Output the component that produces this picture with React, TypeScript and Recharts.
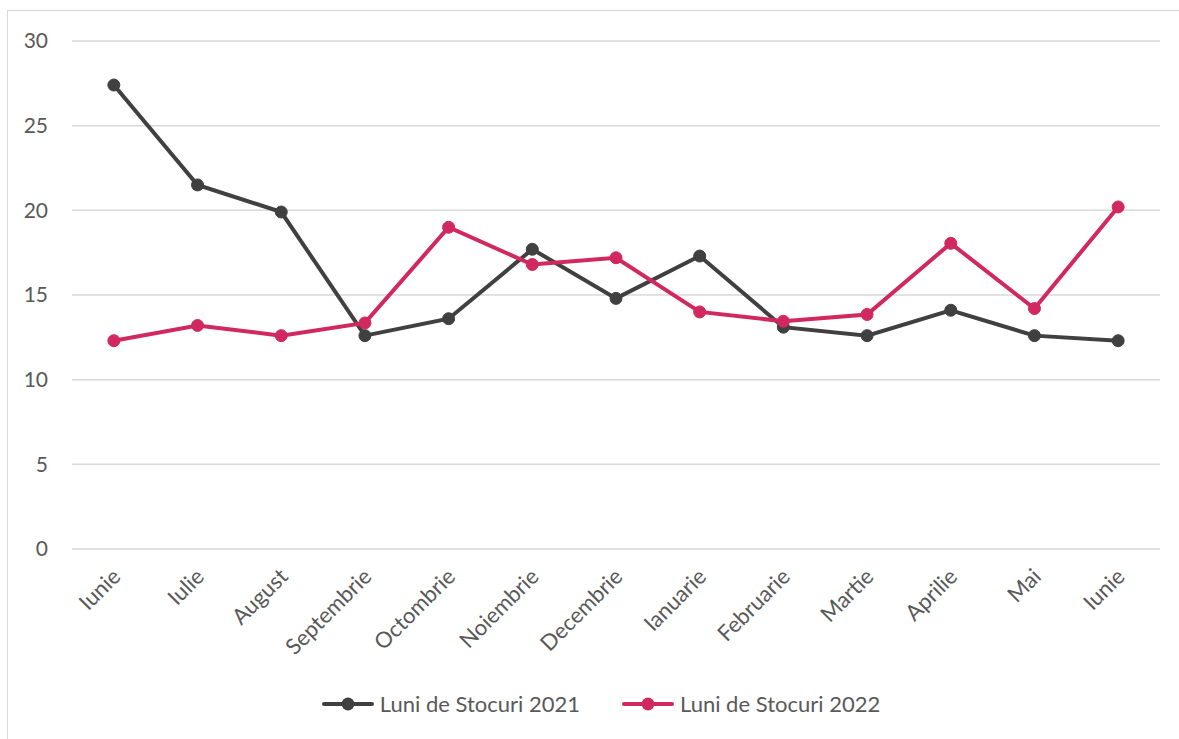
import { LineChart, Line, XAxis, YAxis, CartesianGrid, Legend } from "recharts";

const months = [
  "Iunie",
  "Iulie",
  "August",
  "Septembrie",
  "Octombrie",
  "Noiembrie",
  "Decembrie",
  "Ianuarie",
  "Februarie",
  "Martie",
  "Aprilie",
  "Mai",
  "Iunie",
];

const stocuri2021 = [27.4, 21.5, 19.9, 12.6, 13.6, 17.7, 14.8, 17.3, 13.1, 12.6, 14.1, 12.6, 12.3];
const stocuri2022 = [12.3, 13.2, 12.6, 13.35, 19.0, 16.8, 17.2, 14.0, 13.45, 13.85, 18.05, 14.2, 20.2];

const yTicks = [0, 5, 10, 15, 20, 25, 30];

const DARK = "#404040";
const PINK = "#d1285f";
const TEXT = "#595959";
const FONT = "Lato, 'Open Sans', sans-serif";

const data = months.map((m, i) => ({
  idx: i,
  month: m,
  s2021: stocuri2021[i],
  s2022: stocuri2022[i],
}));

function MonthTick(props: any) {
  const { x, y, payload } = props;
  return (
    <g transform={`translate(${x + 8},${y + 21})`}>
      <text
        textAnchor="end"
        transform="rotate(-45)"
        fill={TEXT}
        fontSize={22}
        fontFamily={FONT}
      >
        {months[payload.value]}
      </text>
    </g>
  );
}

function LegendContent() {
  const items = [
    { label: "Luni de Stocuri 2021", color: DARK },
    { label: "Luni de Stocuri 2022", color: PINK },
  ];
  return (
    <div style={{ display: "flex", justifyContent: "center", gap: 42, paddingLeft: 20 }}>
      {items.map((it) => (
        <div key={it.label} style={{ display: "flex", alignItems: "center" }}>
          <svg width={52} height={16}>
            <line x1={2} y1={8} x2={50} y2={8} stroke={it.color} strokeWidth={4} strokeLinecap="round" />
            <circle cx={26} cy={8} r={6.5} fill={it.color} />
          </svg>
          <span style={{ fontFamily: FONT, fontSize: 22, color: TEXT, marginLeft: 6 }}>
            {it.label}
          </span>
        </div>
      ))}
    </div>
  );
}

export default function App() {
  return (
    <div
      style={{
        position: "absolute",
        left: 7,
        top: 10,
        width: 1180,
        height: 740,
        border: "1.5px solid #d9d9d9",
        background: "#fff",
        boxSizing: "border-box",
      }}
    >
      <LineChart
        width={1172}
        height={729}
        data={data}
        margin={{ top: 30, right: 20, bottom: 20, left: 14 }}
      >
        <CartesianGrid vertical={false} stroke="#d9d9d9" strokeWidth={1.5} />
        <XAxis
          dataKey="idx"
          type="category"
          scale="band"
          axisLine={false}
          tickLine={false}
          interval={0}
          height={141}
          tick={<MonthTick />}
        />
        <YAxis
          domain={[0, 30]}
          ticks={yTicks}
          width={50}
          axisLine={false}
          tickLine={false}
          tickMargin={18}
          tick={{ fill: TEXT, fontSize: 21, fontFamily: FONT }}
        />
        <Legend verticalAlign="bottom" height={30} content={<LegendContent />} />
        <Line
          dataKey="s2021"
          stroke={DARK}
          strokeWidth={4}
          dot={{ r: 6, fill: DARK, stroke: DARK, strokeWidth: 1 }}
          isAnimationActive={false}
        />
        <Line
          dataKey="s2022"
          stroke={PINK}
          strokeWidth={4}
          dot={{ r: 6, fill: PINK, stroke: PINK, strokeWidth: 1 }}
          isAnimationActive={false}
        />
      </LineChart>
    </div>
  );
}
